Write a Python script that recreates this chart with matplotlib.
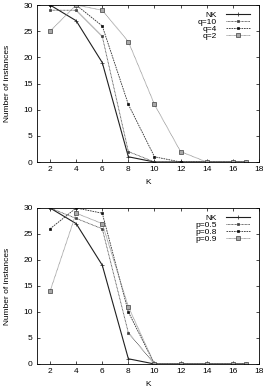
import matplotlib
matplotlib.use('Agg')
from matplotlib import pyplot as plt

plt.rcParams['font.family'] = ['Liberation Sans', 'DejaVu Sans']

k = [2, 4, 6, 8, 10, 12, 14, 16, 17]

nk = [30, 27, 19, 1, 0, 0, 0, 0, 0]
q10 = [29, 29, 24, 2, 0, 0, 0, 0, 0]
q4 = [30, 30, 26, 11, 1, 0, 0, 0, 0]
q2 = [25, 30, 29, 23, 11, 2, 0, 0, 0]

p05 = [30, 28, 26, 6, 0, 0, 0, 0, 0]
p08 = [26, 30, 29, 10, 0, 0, 0, 0, 0]
p09 = [14, 29, 27, 11, 0, 0, 0, 0, 0]

top_series = [('NK', nk), ('q=10', q10), ('q=4', q4), ('q=2', q2)]
bot_series = [('NK', nk), ('p=0.5', p05), ('p=0.8', p08), ('p=0.9', p09)]

# gnuplot-ish styles: line colour, dash, marker, marker fill, marker edge
styles = [
    dict(color='#202020', ls='-', marker='+', ms=2.5, mfc='#202020', mec='#202020', lw=0.8),
    dict(color='#404040', ls=(0, (1, 0.7)), marker='s', ms=2, mfc='#404040', mec='#404040', lw=0.6),
    dict(color='#303030', ls=(0, (2, 1)), marker='s', ms=2, mfc='#101010', mec='#101010', lw=0.6),
    dict(color='#8a8a8a', ls=(0, (1, 0.5)), marker='s', ms=2.8, mfc='#a8a8a8', mec='#404040', lw=0.6),
]

fig = plt.figure(figsize=(2.67, 3.89), dpi=100)
ax1 = fig.add_axes([0.1386, 0.5835, 0.831, 0.4036])
ax2 = fig.add_axes([0.1386, 0.0643, 0.831, 0.401])

for ax, series in [(ax1, top_series), (ax2, bot_series)]:
    for (name, vals), st in zip(series, styles):
        ax.plot(k, vals, label=name, color=st['color'], linestyle=st['ls'],
                linewidth=st['lw'], marker=st['marker'], markersize=st['ms'],
                markerfacecolor=st['mfc'], markeredgecolor=st['mec'],
                markeredgewidth=0.5)
    ax.set_xlim(1, 18)
    ax.set_ylim(0, 30)
    ax.set_xticks(range(2, 19, 2))
    ax.set_yticks(range(0, 31, 5))
    ax.tick_params(direction='in', top=True, right=True, labelsize=6,
                   length=2.5, width=0.5, pad=3)
    for s in ax.spines.values():
        s.set_linewidth(0.6)
    ax.set_xlabel('K', fontsize=6, labelpad=4)
    ax.set_ylabel('Number of instances', fontsize=6)
    ax.yaxis.set_label_coords(-0.115, 0.5)
    ax.legend(loc='upper right', bbox_to_anchor=(0.985, 1.0),
              frameon=False, fontsize=6,
              markerfirst=False, handlelength=2.9, handletextpad=1.0,
              labelspacing=-0.1, borderaxespad=0.3)

plt.savefig('out.png', dpi=100)
